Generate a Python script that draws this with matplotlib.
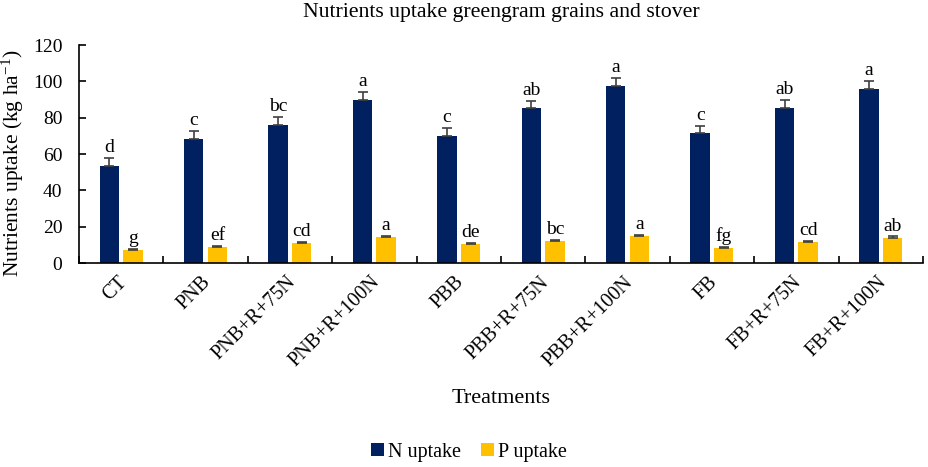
import matplotlib
matplotlib.use("Agg")
import matplotlib.pyplot as plt
import matplotlib.transforms as mtransforms
import numpy as np

categories = ["CT", "PNB", "PNB+R+75N", "PNB+R+100N", "PBB", "PBB+R+75N",
              "PBB+R+100N", "FB", "FB+R+75N", "FB+R+100N"]
n_uptake = [53.5, 68.4, 76.2, 89.8, 70.0, 85.5, 97.6, 71.3, 85.5, 96.0]
n_err = [4.3, 4.2, 4.1, 4.3, 4.3, 3.9, 4.4, 4.2, 4.1, 4.2]
p_uptake = [7.2, 9.0, 10.8, 14.1, 10.3, 12.3, 14.9, 8.3, 11.8, 14.0]
p_err = [0.6, 0.6, 0.6, 0.6, 0.6, 0.6, 0.5, 0.5, 0.5, 0.6]
n_letters = ["d", "c", "bc", "a", "c", "ab", "a", "c", "ab", "a"]
p_letters = ["g", "ef", "cd", "a", "de", "bc", "a", "fg", "cd", "ab"]

plt.rcParams['font.family'] = ['Liberation Serif', 'DejaVu Serif']
plt.rcParams['mathtext.default'] = 'regular'

fig = plt.figure(figsize=(9.29, 4.67), dpi=100)
ax = fig.add_axes([0.085, 0.4368, 0.9085, 0.4668])

x = np.arange(len(categories))
w = 0.23
off = 0.14
navy = "#002060"
gold = "#FFC000"
ekw = dict(ecolor="#404040", capsize=3.3, elinewidth=1.2, capthick=1.2)
ax.bar(x - off, n_uptake, w, color=navy, label="N uptake",
       yerr=[np.zeros(len(n_err)), n_err], error_kw=ekw)
ax.bar(x + off, p_uptake, w, color=gold, label="P uptake",
       yerr=[np.zeros(len(p_err)), p_err], error_kw=ekw)

for i in range(len(categories)):
    ax.text(x[i] - off, n_uptake[i] + n_err[i] + 1.0, n_letters[i], ha="center", va="bottom", fontsize=14)
    ax.text(x[i] + off, p_uptake[i] + p_err[i] + 1.0, p_letters[i], ha="center", va="bottom", fontsize=14)

ax.set_xlim(-0.5, len(categories) - 0.5)
ax.set_ylim(0, 120)
ax.set_yticks(np.arange(0, 121, 20))
ax.tick_params(axis="y", labelsize=14, direction="in", length=5, width=1.2, pad=12)
ax.set_xticks(x)
ax.set_xticklabels(categories, rotation=45, ha="right", va="top", rotation_mode="anchor", fontsize=14.5)
ax.tick_params(axis="x", which="major", length=0, pad=7)
ax.set_xticks(np.arange(-0.5, len(categories), 1.0), minor=True)
ax.tick_params(axis="x", which="minor", length=5, width=1.2, direction="in")
for s in ["top", "right"]:
    ax.spines[s].set_visible(False)
for s in ["left", "bottom"]:
    ax.spines[s].set_linewidth(1.2)

shift = mtransforms.ScaledTranslation(-4 / 100, 0, fig.dpi_scale_trans)
for lbl in ax.get_xticklabels():
    lbl.set_transform(lbl.get_transform() + shift)

ax.set_ylabel("Nutrients uptake (kg ha$^{-1}$)", fontsize=15.5)
ax.yaxis.set_label_coords(-0.063, 0.455)
ax.set_xlabel("Treatments", fontsize=16, labelpad=13)
ax.set_title("Nutrients uptake greengram grains and stover", fontsize=15.7, pad=20)

fig.legend(loc="center", bbox_to_anchor=(0.505, 1 - 452 / 467), ncol=2, frameon=False,
           fontsize=14.5, handlelength=0.65, handleheight=0.65, handletextpad=0.2, columnspacing=1.0)

fig.savefig("out.png", dpi=100)
